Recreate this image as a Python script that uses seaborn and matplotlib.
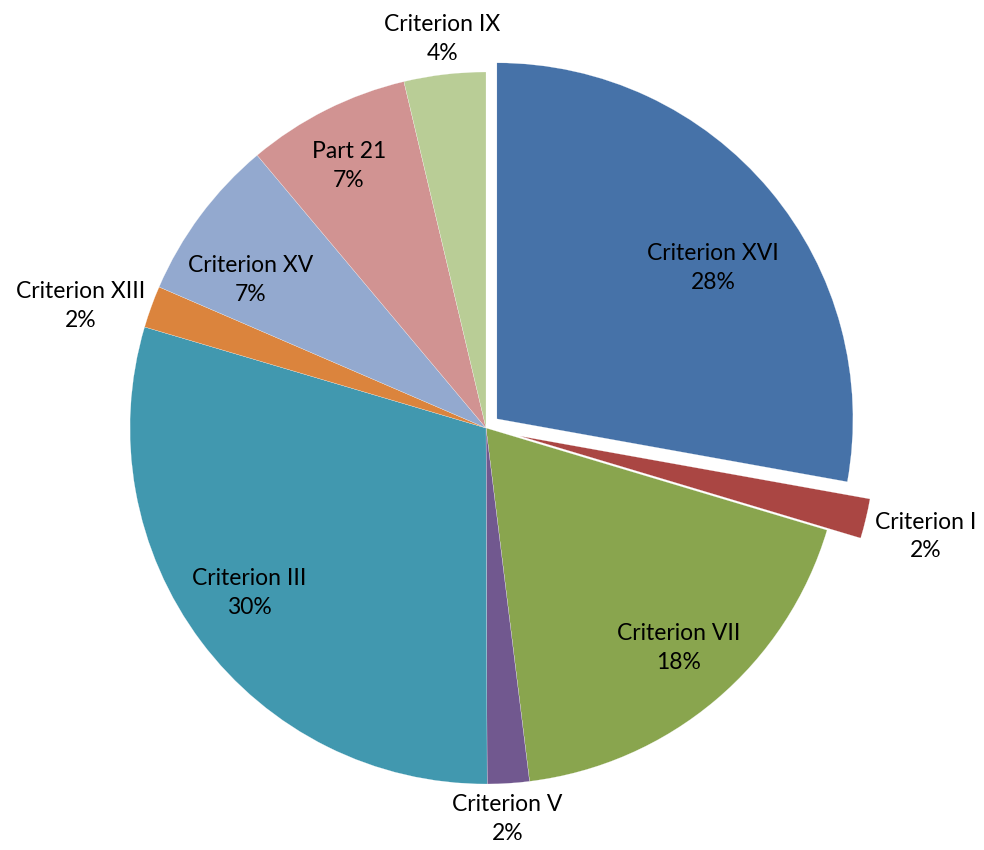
import matplotlib
matplotlib.use("Agg")
import matplotlib.pyplot as plt
import seaborn as sns
import numpy as np

categories = ["Criterion XVI", "Criterion I", "Criterion VII", "Criterion V",
              "Criterion III", "Criterion XIII", "Criterion XV", "Part 21", "Criterion IX"]
shares = [27.8, 1.8, 18.4, 1.9, 29.6, 1.9, 7.4, 7.4, 3.7]
colors = ["#4672A8", "#AA4643", "#89A54E", "#71588F", "#4198AF",
          "#DB843D", "#93A9CF", "#D19392", "#B9CD96"]
explode = [0.04, 0.097, 0, 0, 0, 0, 0, 0, 0]

# label placement: (radius fraction, angle offset in degrees)
label_pos = [(0.74, 5), (1.175, 0.5), (0.82, -1), (1.10, 0.5), (0.81, 2),
             (1.19, -3.2), (0.78, -4.5), (0.83, -1), (1.10, 0.3)]

sns.set_theme(style="white")
plt.rcParams['font.family'] = ['Lato', 'DejaVu Sans']

W, H = 984, 850
fig = plt.figure(figsize=(W / 100, H / 100), dpi=100)
ax = fig.add_axes([0, 0, 1, 1])

cx, cy, R = 486, 428, 356
wedges, _ = ax.pie(shares, colors=colors, explode=explode, startangle=90,
                   counterclock=False, radius=1,
                   wedgeprops=dict(linewidth=0.15, edgecolor="white"))

for w, cat, val, ex, (rf, da) in zip(wedges, categories, shares, explode, label_pos):
    mid = np.deg2rad((w.theta1 + w.theta2) / 2)
    mid_lbl = mid - np.deg2rad(da)
    ox, oy = ex * np.cos(mid), ex * np.sin(mid)
    x = ox + rf * np.cos(mid_lbl)
    y = oy + rf * np.sin(mid_lbl)
    ax.text(x, y, f"{cat}\n{val:.0f}%", ha="center", va="center",
            fontsize=16.5, color="black", linespacing=1.45)

ax.set_xlim(-cx / R, (W - cx) / R)
ax.set_ylim(-(H - cy) / R, cy / R)
ax.set_aspect("auto")
ax.axis("off")

fig.savefig("out.png", dpi=100, facecolor="white")
